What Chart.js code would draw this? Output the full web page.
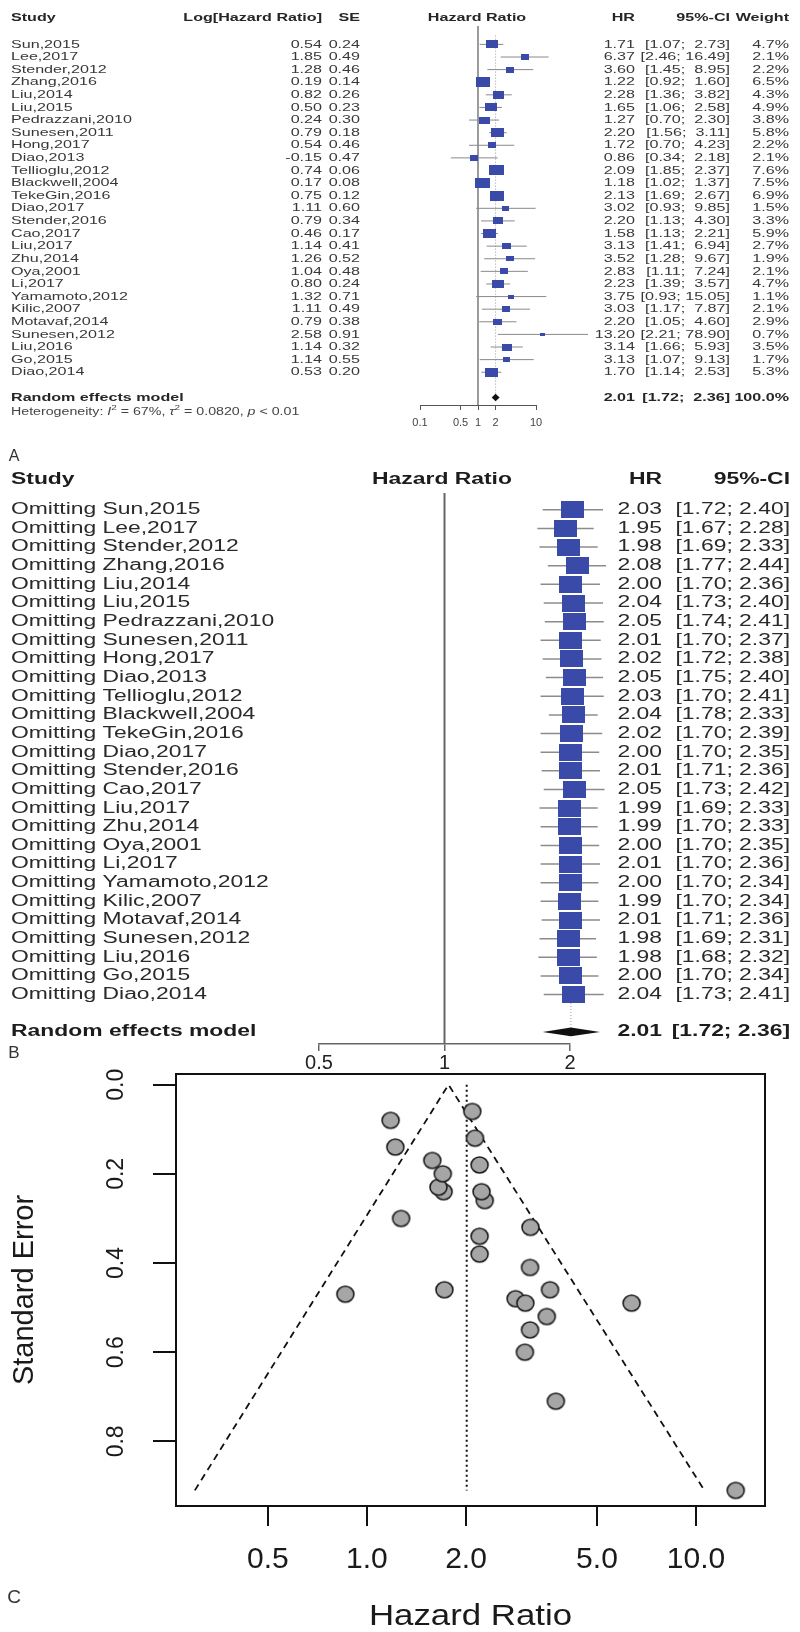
<!DOCTYPE html>
<html>
<head>
<meta charset="utf-8">
<title>Hazard ratio meta-analysis</title>
<script src="https://cdn.jsdelivr.net/npm/chart.js@4.4.1/dist/chart.umd.min.js"></script>
<style>
  body { margin: 0; background: #fff; }
  canvas { position: absolute; left: 0; }
</style>
</head>
<body>
<canvas id="forest" width="800" height="470" style="top:0px"></canvas>
<canvas id="influence" width="800" height="620" style="top:462px"></canvas>
<canvas id="funnel" width="800" height="570" style="top:1062px"></canvas>
<script>
// ---- data: panel A, one row per study ----
const studies = ['Sun,2015', 'Lee,2017', 'Stender,2012', 'Zhang,2016', 'Liu,2014', 'Liu,2015',
  'Pedrazzani,2010', 'Sunesen,2011', 'Hong,2017', 'Diao,2013', 'Tellioglu,2012', 'Blackwell,2004',
  'TekeGin,2016', 'Diao,2017', 'Stender,2016', 'Cao,2017', 'Liu,2017', 'Zhu,2014', 'Oya,2001',
  'Li,2017', 'Yamamoto,2012', 'Kilic,2007', 'Motavaf,2014', 'Sunesen,2012', 'Liu,2016', 'Go,2015', 'Diao,2014'];
const logHR = [0.54, 1.85, 1.28, 0.19, 0.82, 0.50, 0.24, 0.79, 0.54, -0.15, 0.74, 0.17, 0.75, 1.11,
  0.79, 0.46, 1.14, 1.26, 1.04, 0.80, 1.32, 1.11, 0.79, 2.58, 1.14, 1.14, 0.53];
const se = [0.24, 0.49, 0.46, 0.14, 0.26, 0.23, 0.30, 0.18, 0.46, 0.47, 0.06, 0.08, 0.12, 0.60,
  0.34, 0.17, 0.41, 0.52, 0.48, 0.24, 0.71, 0.49, 0.38, 0.91, 0.32, 0.55, 0.20];
const hr = [1.71, 6.37, 3.60, 1.22, 2.28, 1.65, 1.27, 2.20, 1.72, 0.86, 2.09, 1.18, 2.13, 3.02,
  2.20, 1.58, 3.13, 3.52, 2.83, 2.23, 3.75, 3.03, 2.20, 13.20, 3.14, 3.13, 1.70];
const ciLow = [1.07, 2.46, 1.45, 0.92, 1.36, 1.06, 0.70, 1.56, 0.70, 0.34, 1.85, 1.02, 1.69, 0.93,
  1.13, 1.13, 1.41, 1.28, 1.11, 1.39, 0.93, 1.17, 1.05, 2.21, 1.66, 1.07, 1.14];
const ciHigh = [2.73, 16.49, 8.95, 1.60, 3.82, 2.58, 2.30, 3.11, 4.23, 2.18, 2.37, 1.37, 2.67, 9.85,
  4.30, 2.21, 6.94, 9.67, 7.24, 3.57, 15.05, 7.87, 4.60, 78.90, 5.93, 9.13, 2.53];
const weight = [4.7, 2.1, 2.2, 6.5, 4.3, 4.9, 3.8, 5.8, 2.2, 2.1, 7.6, 7.5, 6.9, 1.5, 3.3, 5.9,
  2.7, 1.9, 2.1, 4.7, 1.1, 2.1, 2.9, 0.7, 3.5, 1.7, 5.3];

// pooled random effects estimate
const pooledHR = 2.01, pooledLow = 1.72, pooledHigh = 2.36;
const i2Text = '67%', tau2Text = '0.0820', pText = '< 0.01';

// ---- data: panel B, leave-one-out ----
const omitHR = [2.03, 1.95, 1.98, 2.08, 2.00, 2.04, 2.05, 2.01, 2.02, 2.05, 2.03, 2.04, 2.02, 2.00,
  2.01, 2.05, 1.99, 1.99, 2.00, 2.01, 2.00, 1.99, 2.01, 1.98, 1.98, 2.00, 2.04];
const omitLow = [1.72, 1.67, 1.69, 1.77, 1.70, 1.73, 1.74, 1.70, 1.72, 1.75, 1.70, 1.78, 1.70, 1.70,
  1.71, 1.73, 1.69, 1.70, 1.70, 1.70, 1.70, 1.70, 1.71, 1.69, 1.68, 1.70, 1.73];
const omitHigh = [2.40, 2.28, 2.33, 2.44, 2.36, 2.40, 2.41, 2.37, 2.38, 2.40, 2.41, 2.33, 2.39, 2.35,
  2.36, 2.42, 2.33, 2.33, 2.35, 2.36, 2.34, 2.34, 2.36, 2.31, 2.32, 2.34, 2.41];

// ---- data: panel C, funnel ----
const funnelCentre = 1.77, funnelLeft = 0.30, funnelRight = 10.6, funnelMaxSE = 0.91;

// tick labels
const forestTicks = [0.1, 0.5, 1, 2, 10];
const influenceTicks = [0.5, 1, 2];
const funnelXTicks = [0.5, 1, 2, 5, 10];
const funnelYTicks = [0, 0.2, 0.4, 0.6, 0.8];

const FF = '"Liberation Sans", Arial, sans-serif';
const BLUE = '#3a4aa8';
Chart.defaults.font.family = FF;
Chart.defaults.plugins.legend.display = false;
Chart.defaults.plugins.tooltip.enabled = false;

// text helper, sx stretches the text sideways like the source figure
function txt(ctx, s, x, y, o) {
  ctx.save();
  ctx.font = (o.italic ? 'italic ' : '') + (o.bold ? 'bold ' : '') + o.size + 'px ' + FF;
  ctx.fillStyle = o.color || '#333';
  ctx.textAlign = o.align || 'left';
  ctx.textBaseline = 'middle';
  ctx.translate(x, y);
  if (o.rot) ctx.rotate(o.rot);
  ctx.scale(o.sx || 1, 1);
  ctx.fillText(s, 0, 0);
  ctx.restore();
}
function runs(ctx, parts, x, y, sx, color) {
  let cx = x;
  parts.forEach(p => {
    ctx.save();
    ctx.font = (p.italic ? 'italic ' : '') + p.size + 'px ' + FF;
    ctx.fillStyle = color;
    ctx.textBaseline = 'middle';
    ctx.translate(cx, y + (p.dy || 0));
    ctx.scale(sx, 1);
    ctx.fillText(p.t, 0, 0);
    cx += ctx.measureText(p.t).width * sx;
    ctx.restore();
  });
}
// R pads the upper limit to the widest entry of the column
const ciText = (lo, hi, pad) => '[' + lo.toFixed(2) + '; ' + hi.toFixed(2).padStart(pad, ' ') + ']';

function rectStyle(w, h, color) {
  const c = document.createElement('canvas');
  c.width = Math.max(2, Math.round(w));
  c.height = Math.max(2, Math.round(h));
  const g = c.getContext('2d');
  g.fillStyle = color;
  g.fillRect(0, 0, c.width, c.height);
  return c;
}
function ovalStyle(w, h) {
  const c = document.createElement('canvas');
  c.width = w + 4; c.height = h + 4;
  const g = c.getContext('2d');
  g.beginPath();
  g.ellipse(c.width / 2, c.height / 2, w / 2, h / 2, 0, 0, Math.PI * 2);
  g.fillStyle = '#a6a6a6'; g.fill();
  g.lineWidth = 1.6; g.strokeStyle = '#1e1e1e'; g.stroke();
  return c;
}
// pooled diamond, placed with the chart's own scales
function drawDiamond(chart, row, half) {
  const x = chart.scales.x, y = chart.scales.y, ctx = chart.ctx;
  const yc = y.getPixelForValue(row);
  const h = Math.abs(y.getPixelForValue(row + half) - yc);
  ctx.save();
  ctx.beginPath();
  ctx.moveTo(x.getPixelForValue(pooledLow), yc);
  ctx.lineTo(x.getPixelForValue(pooledHR), yc - h);
  ctx.lineTo(x.getPixelForValue(pooledHigh), yc);
  ctx.lineTo(x.getPixelForValue(pooledHR), yc + h);
  ctx.closePath();
  ctx.fillStyle = '#111';
  ctx.fill();
  ctx.restore();
}
const ciSets = (lo, hi, color, width) => lo.map((l, i) => ({
  data: [{x: l, y: i}, {x: hi[i], y: i}],
  borderColor: color, borderWidth: width, pointRadius: 0, clip: false
}));

// ================= panel A : forest plot =================
const boxA = weight.map(w => { const s = 3.8 * Math.sqrt(w); return rectStyle(1.45 * s, s, BLUE); });

const forestText = {
  id: 'forestText',
  afterDraw(chart) {
    const ctx = chart.ctx, y = chart.scales.y;
    const o = {size: 11.5, sx: 1.4, color: '#383838'};
    const ob = {...o, bold: true, color: '#262626'};
    const hy = 18;
    txt(ctx, 'Study', 11, hy, ob);
    txt(ctx, 'Log[Hazard Ratio]', 322, hy, {...ob, align: 'right'});
    txt(ctx, 'SE', 360, hy, {...ob, align: 'right'});
    txt(ctx, 'Hazard Ratio', 477, hy, {...ob, align: 'center'});
    txt(ctx, 'HR', 635, hy, {...ob, align: 'right'});
    txt(ctx, '95%-CI', 730, hy, {...ob, align: 'right'});
    txt(ctx, 'Weight', 789, hy, {...ob, align: 'right'});
    studies.forEach((s, i) => {
      const py = y.getPixelForValue(i);
      txt(ctx, s, 11, py, o);
      txt(ctx, logHR[i].toFixed(2), 322, py, {...o, align: 'right'});
      txt(ctx, se[i].toFixed(2), 360, py, {...o, align: 'right'});
      txt(ctx, hr[i].toFixed(2), 635, py, {...o, align: 'right'});
      txt(ctx, ciText(ciLow[i], ciHigh[i], 5), 730, py, {...o, align: 'right'});
      txt(ctx, weight[i].toFixed(1) + '%', 789, py, {...o, align: 'right'});
    });
    const ry = y.getPixelForValue(28);
    drawDiamond(chart, 28, 0.3);
    txt(ctx, 'Random effects model', 11, ry, ob);
    txt(ctx, pooledHR.toFixed(2), 635, ry, {...ob, align: 'right'});
    txt(ctx, ciText(pooledLow, pooledHigh, 5), 730, ry, {...ob, align: 'right'});
    txt(ctx, '100.0%', 789, ry, {...ob, align: 'right'});
    runs(ctx, [
      {t: 'Heterogeneity: ', size: 10}, {t: 'I', size: 10, italic: true}, {t: '2', size: 7, dy: -4},
      {t: ' = ' + i2Text + ', ', size: 10}, {t: 'τ', size: 10, italic: true}, {t: '2', size: 7, dy: -4},
      {t: ' = ' + tau2Text + ', ', size: 10}, {t: 'p', size: 10, italic: true}, {t: ' ' + pText, size: 10}
    ], 11, y.getPixelForValue(29.15), 1.42, '#444');
    txt(ctx, 'A', 14, 457, {size: 16, color: '#333', align: 'center'});
  }
};

const forestChart = new Chart(document.getElementById('forest'), {
  type: 'line',
  data: {
    datasets: [
      { data: hr.map((v, i) => ({x: v, y: i})), showLine: false, pointRadius: 30,
        pointStyle: c => boxA[c.dataIndex], clip: false },
      ...ciSets(ciLow, ciHigh, '#8a8a8a', 1),
      { data: [{x: 1, y: -1.46}, {x: 1, y: 28.6}], borderColor: '#5a5a5a', borderWidth: 1.2, pointRadius: 0 },
      { data: [{x: pooledHR, y: -0.7}, {x: pooledHR, y: 27.7}], borderColor: '#9a9a9a',
        borderWidth: 1, borderDash: [1, 2], pointRadius: 0 }
    ]
  },
  options: {
    responsive: false,
    animation: false,
    devicePixelRatio: 1,
    layout: { autoPadding: false, padding: { left: 420, right: 264, top: 26, bottom: 35 } },
    scales: {
      x: {
        type: 'logarithmic', min: 0.1, max: 10,
        afterBuildTicks: s => { s.ticks = forestTicks.map(v => ({value: v})); },
        afterFit: s => { s.height = 30; },
        ticks: { autoSkip: false, minRotation: 0, maxRotation: 0, padding: 6, color: '#444',
          font: { size: 11 }, callback: v => String(v) },
        grid: { drawOnChartArea: false, tickLength: 5, color: '#555' },
        border: { color: '#555' }
      },
      y: { type: 'linear', display: false, reverse: true, min: -1.46, max: 28.6 }
    }
  },
  plugins: [forestText]
});

// ================= panel B : leave-one-out =================
const boxB = rectStyle(23, 17, BLUE);

const influenceText = {
  id: 'influenceText',
  afterDraw(chart) {
    const ctx = chart.ctx, y = chart.scales.y;
    const o = {size: 16, sx: 1.43, color: '#2a2a2a'};
    const ob = {...o, bold: true, color: '#1c1c1c'};
    const hy = 18;
    txt(ctx, 'Study', 11, hy, ob);
    txt(ctx, 'Hazard Ratio', 442, hy, {...ob, align: 'center'});
    txt(ctx, 'HR', 662, hy, {...ob, align: 'right'});
    txt(ctx, '95%-CI', 790, hy, {...ob, align: 'right'});
    studies.forEach((s, i) => {
      const py = y.getPixelForValue(i);
      txt(ctx, 'Omitting ' + s, 11, py, o);
      txt(ctx, omitHR[i].toFixed(2), 662, py, {...o, align: 'right'});
      txt(ctx, ciText(omitLow[i], omitHigh[i], 4), 790, py, {...o, align: 'right'});
    });
    const ry = y.getPixelForValue(28);
    drawDiamond(chart, 28, 0.24);
    txt(ctx, 'Random effects model', 11, ry, ob);
    txt(ctx, pooledHR.toFixed(2), 662, ry, {...ob, align: 'right'});
    txt(ctx, ciText(pooledLow, pooledHigh, 4), 790, ry, {...ob, align: 'right'});
    txt(ctx, 'B', 14, 591, {size: 17, color: '#333', align: 'center'});
  }
};

const influenceChart = new Chart(document.getElementById('influence'), {
  type: 'line',
  data: {
    datasets: [
      { data: omitHR.map((v, i) => ({x: v, y: i})), showLine: false, pointRadius: 30,
        pointStyle: boxB, clip: false },
      ...ciSets(omitLow, omitHigh, '#8c8c8c', 1.5),
      { data: [{x: 1, y: -0.9}, {x: 1, y: 28.65}], borderColor: '#666', borderWidth: 2, pointRadius: 0 },
      { data: [{x: pooledHR, y: 26.45}, {x: pooledHR, y: 27.76}], borderColor: '#999',
        borderWidth: 1, borderDash: [1, 2], pointRadius: 0, clip: false }
    ]
  },
  options: {
    responsive: false,
    animation: false,
    devicePixelRatio: 1,
    layout: { autoPadding: false, padding: { left: 319, right: 230, top: 31, bottom: 8 } },
    scales: {
      x: {
        type: 'logarithmic', min: 0.5, max: 2,
        afterBuildTicks: s => { s.ticks = influenceTicks.map(v => ({value: v})); },
        afterFit: s => { s.height = 30; },
        ticks: { autoSkip: false, minRotation: 0, maxRotation: 0, padding: 0, color: '#222',
          font: { size: 20 }, callback: v => String(v) },
        grid: { drawOnChartArea: false, tickLength: 7, color: '#666', lineWidth: 1.5 },
        border: { color: '#666', width: 1.5 }
      },
      y: { type: 'linear', display: false, reverse: true, min: -0.9, max: 28.65 }
    }
  },
  plugins: [influenceText]
});

// ================= panel C : funnel plot =================
const dot = ovalStyle(17, 16);

const funnelText = {
  id: 'funnelText',
  afterDraw(chart) {
    const ctx = chart.ctx, a = chart.chartArea, y = chart.scales.y;
    ctx.save();
    ctx.strokeStyle = '#111';
    ctx.lineWidth = 2;
    ctx.strokeRect(a.left, a.top, a.right - a.left, a.bottom - a.top);
    ctx.restore();
    funnelYTicks.forEach(v => {
      txt(ctx, v.toFixed(1), 117, y.getPixelForValue(v), {size: 23, color: '#1a1a1a', align: 'center', rot: -Math.PI / 2});
    });
    txt(ctx, 'Standard Error', 25, (a.top + a.bottom) / 2, {size: 29, color: '#1a1a1a', align: 'center', rot: -Math.PI / 2});
    txt(ctx, 'Hazard Ratio', (a.left + a.right) / 2, 555, {size: 29, sx: 1.2, color: '#1a1a1a', align: 'center'});
    txt(ctx, 'C', 14, 536, {size: 19, color: '#333', align: 'center'});
  }
};

const funnelChart = new Chart(document.getElementById('funnel'), {
  type: 'line',
  data: {
    datasets: [
      { data: hr.map((v, i) => ({x: v, y: se[i]})), showLine: false, pointRadius: 30,
        pointStyle: dot, clip: false },
      { data: [{x: funnelLeft, y: funnelMaxSE}, {x: funnelCentre, y: 0}, {x: funnelRight, y: funnelMaxSE}],
        borderColor: '#111', borderWidth: 1.8, borderDash: [7, 5], pointRadius: 0 },
      { data: [{x: pooledHR, y: 0}, {x: pooledHR, y: funnelMaxSE}], borderColor: '#111',
        borderWidth: 2, borderDash: [2, 3], pointRadius: 0 }
    ]
  },
  options: {
    responsive: false,
    animation: false,
    devicePixelRatio: 1,
    layout: { autoPadding: false, padding: { left: 153, right: 35, top: 12, bottom: 36 } },
    scales: {
      x: {
        type: 'logarithmic', min: 0.263, max: 16.2,
        afterBuildTicks: s => { s.ticks = funnelXTicks.map(v => ({value: v})); },
        afterFit: s => { s.height = 90; },
        ticks: { autoSkip: false, minRotation: 0, maxRotation: 0, padding: 16, color: '#1a1a1a',
          font: { size: 30 }, callback: v => v.toFixed(1) },
        grid: { drawOnChartArea: false, tickLength: 20, color: '#111', lineWidth: 2 },
        border: { color: '#111', width: 2 }
      },
      y: {
        type: 'linear', reverse: true, min: -0.024, max: 0.945,
        afterBuildTicks: s => { s.ticks = funnelYTicks.map(v => ({value: v})); },
        afterFit: s => { s.width = 23; },
        ticks: { display: false },
        grid: { drawOnChartArea: false, tickLength: 23, color: '#111', lineWidth: 2 },
        border: { color: '#111', width: 2 }
      }
    }
  },
  plugins: [funnelText]
});
</script>
</body>
</html>
